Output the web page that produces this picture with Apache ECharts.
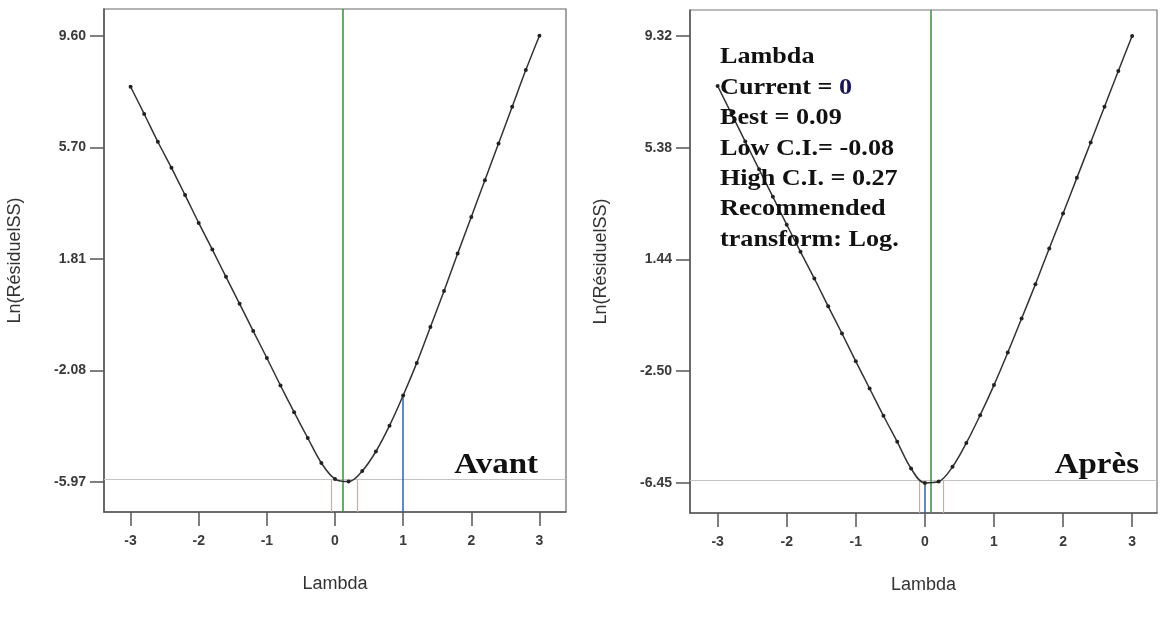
<!DOCTYPE html>
<html>
<head>
<meta charset="utf-8">
<script src="https://cdn.jsdelivr.net/npm/echarts@6/dist/echarts.min.js"></script>
<style>
  html, body { margin: 0; padding: 0; background: #ffffff; }
  #chart { width: 1160px; height: 621px; }
</style>
</head>
<body>
<div id="chart"></div>
<script>
// Box-Cox plot: Ln(residual SS) against lambda, before and after transformation
const lambdaValues = [-3.0, -2.8, -2.6, -2.4, -2.2, -2.0, -1.8, -1.6, -1.4, -1.2, -1.0,
                      -0.8, -0.6, -0.4, -0.2, 0.0, 0.2, 0.4, 0.6, 0.8, 1.0,
                      1.2, 1.4, 1.6, 1.8, 2.0, 2.2, 2.4, 2.6, 2.8, 3.0];

const avantLnSS = [7.82, 6.87, 5.90, 4.99, 4.04, 3.07, 2.14, 1.19, 0.25, -0.70, -1.64,
                   -2.60, -3.53, -4.43, -5.30, -5.86, -5.95, -5.58, -4.90, -4.00, -2.95,
                   -1.81, -0.56, 0.70, 2.00, 3.28, 4.56, 5.84, 7.12, 8.40, 9.60];

const apresLnSS = [7.56, 6.58, 5.60, 4.62, 3.65, 2.67, 1.71, 0.77, -0.21, -1.17, -2.15,
                   -3.11, -4.07, -4.99, -5.93, -6.44, -6.39, -5.87, -5.03, -4.05, -2.99,
                   -1.84, -0.64, 0.57, 1.83, 3.06, 4.32, 5.57, 6.83, 8.09, 9.32];

const lambdaTicks = [-3, -2, -1, 0, 1, 2, 3];
const avantYTicks = [-5.97, -2.08, 1.81, 5.70, 9.60];
const apresYTicks = [-6.45, -2.50, 1.44, 5.38, 9.32];

// lambda: current, best, low CI, high CI ; and the CI threshold on Ln(SS)
const avantLambda = [1, 0.12, -0.05, 0.32];
const avantCiLnSS = -5.87;
const apresLambda = [0, 0.09, -0.08, 0.27];
const apresCiLnSS = -6.33;

const panelTitles = ['Avant', 'Après'];
const recommendedTransform = 'Log.';

const avantYRange = [-7.01, 10.53];
const apresYRange = [-7.50, 10.24];
const avantXRange = [-3.39, 3.39];
const apresXRange = [-3.40, 3.36];

const chart = echarts.init(document.getElementById('chart'), null, { renderer: 'canvas' });

const tickFont = { fontFamily: 'Liberation Sans, Arial, sans-serif', fontSize: 14, fontWeight: 'bold', color: '#3a3a3a' };
const titleFont = { fontFamily: 'Liberation Sans, Arial, sans-serif', fontSize: 18, color: '#333' };
const axisColor = '#555';

function pairs(ys) { return lambdaValues.map((x, i) => [x, ys[i]]); }
function lnAt(ys, lam) {
  const i = lambdaValues.findIndex(v => Math.abs(v - lam) < 1e-9);
  return ys[i];
}

function xAxisFor(grid, range) {
  return {
    gridIndex: grid, type: 'value', min: range[0], max: range[1],
    axisLine: { show: true, onZero: false, lineStyle: { color: axisColor, width: 1.5 } },
    axisTick: { show: true, customValues: lambdaTicks, length: 14, lineStyle: { color: axisColor, width: 1.5 } },
    axisLabel: { customValues: lambdaTicks, margin: 22, ...tickFont,
                 formatter: v => String(v) },
    splitLine: { show: false },
    name: 'Lambda', nameLocation: 'middle', nameGap: 63, nameTextStyle: titleFont
  };
}
function yAxisFor(grid, range, ticks) {
  return {
    gridIndex: grid, type: 'value', min: range[0], max: range[1],
    axisLine: { show: true, onZero: false, lineStyle: { color: axisColor, width: 1.5 } },
    axisTick: { show: true, customValues: ticks, length: 14, lineStyle: { color: axisColor, width: 1.5 } },
    axisLabel: { customValues: ticks, margin: 18, ...tickFont,
                 formatter: v => Number(v).toFixed(2) },
    splitLine: { show: false },
    name: 'Ln(RésiduelSS)', nameLocation: 'middle', nameGap: 80, nameTextStyle: titleFont
  };
}

function seriesFor(idx, ys, lam, ciLn, yMin) {
  const [current, best, low, high] = lam;
  return {
    type: 'line', xAxisIndex: idx, yAxisIndex: idx,
    data: pairs(ys),
    smooth: 0.35,
    symbol: 'circle', symbolSize: 4, showSymbol: true,
    lineStyle: { color: '#333', width: 1.5 },
    itemStyle: { color: '#222' },
    z: 5,
    markLine: {
      silent: true, symbol: 'none', label: { show: false }, animation: false,
      data: [
        { yAxis: ciLn, lineStyle: { color: '#c4c4c4', width: 1, type: 'solid' } },
        { xAxis: best, lineStyle: { color: '#3c8c36', width: 1.5, type: 'solid' } },
        [ { coord: [low, ciLn], lineStyle: { color: '#f09c9c', width: 1.2, type: 'solid' } }, { coord: [low, yMin] } ],
        [ { coord: [high, ciLn], lineStyle: { color: '#f0a47c', width: 1.2, type: 'solid' } }, { coord: [high, yMin] } ],
        [ { coord: [current, lnAt(ys, current)], lineStyle: { color: '#2a62b4', width: 1.5, type: 'solid' } }, { coord: [current, yMin] } ]
      ]
    }
  };
}

const infoLines = [
  'Lambda',
  'Current = {cur|' + apresLambda[0] + '}',
  'Best = ' + apresLambda[1].toFixed(2),
  'Low C.I.= ' + apresLambda[2].toFixed(2),
  'High C.I. = ' + apresLambda[3].toFixed(2),
  'Recommended',
  'transform: ' + recommendedTransform
];

const serif = 'Liberation Serif, Times New Roman, serif';

const option = {
  animation: false,
  backgroundColor: '#ffffff',
  grid: [
    { left: 104, top: 9, width: 462, height: 503, show: true, borderColor: '#666', borderWidth: 1.2 },
    { left: 690, top: 10, width: 467, height: 503, show: true, borderColor: '#777', borderWidth: 1.2 }
  ],
  xAxis: [ xAxisFor(0, avantXRange), xAxisFor(1, apresXRange) ],
  yAxis: [ yAxisFor(0, avantYRange, avantYTicks), yAxisFor(1, apresYRange, apresYTicks) ],
  series: [
    seriesFor(0, avantLnSS, avantLambda, avantCiLnSS, avantYRange[0]),
    seriesFor(1, apresLnSS, apresLambda, apresCiLnSS, apresYRange[0])
  ],
  graphic: [
    { type: 'text', x: 538, y: 465, z: 20, scaleX: 1.1,
      style: { text: panelTitles[0], font: 'bold 30px ' + serif, fill: '#111', align: 'right', verticalAlign: 'middle' } },
    { type: 'text', x: 1139, y: 465, z: 20, scaleX: 1.1,
      style: { text: panelTitles[1], font: 'bold 30px ' + serif, fill: '#111', align: 'right', verticalAlign: 'middle' } },
    { type: 'text', x: 720, y: 42, z: 20, scaleX: 1.09,
      style: {
        text: infoLines.join('\n'),
        font: 'bold 24px ' + serif, fill: '#111', lineHeight: 30.4,
        align: 'left', verticalAlign: 'top',
        rich: { cur: { font: 'bold 24px ' + serif, fill: '#16165a', lineHeight: 30.4 } }
      } }
  ]
};

chart.setOption(option);
</script>
</body>
</html>
